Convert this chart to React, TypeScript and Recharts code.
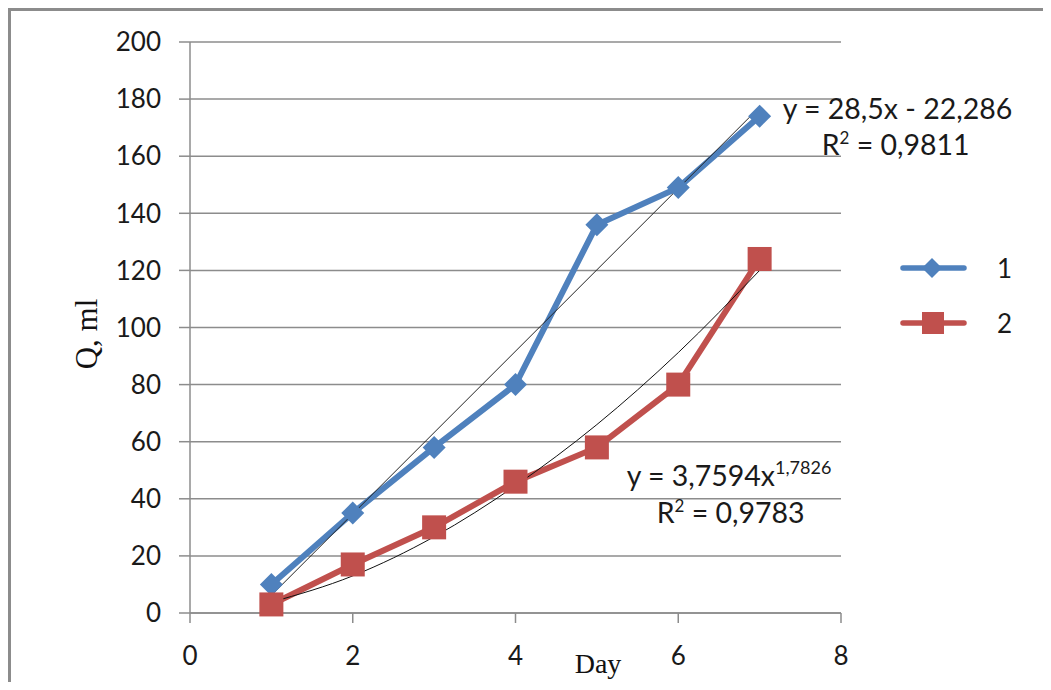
import { LineChart, Line, XAxis, YAxis, CartesianGrid, ReferenceDot } from "recharts";

// measured values (Q, ml per day)
const days = [1, 2, 3, 4, 5, 6, 7];
const series1 = [10, 35, 58, 80, 136, 149, 174];
const series2 = [3, 17, 30, 46, 58, 80, 124];

// trendlines
const linearDays = [1, 7];
const linearTrend = [6.2, 177.2];
const powerTrend = [3.8, 13.0, 26.7, 44.6, 66.0, 91.2, 120.0];

const xTicks = [0, 2, 4, 6, 8];
const yTicks = [0, 20, 40, 60, 80, 100, 120, 140, 160, 180, 200];

const BLUE = "#4F81BD";
const RED = "#C0504D";
const GRID = "#8c8c8c";
const FONT = "Lato, 'Open Sans', sans-serif";
const SERIF = "'Liberation Serif', 'DejaVu Serif', serif";

const s1 = days.map((x, i) => ({ x, y: series1[i] }));
const s2 = days.map((x, i) => ({ x, y: series2[i] }));
const lin = linearDays.map((x, i) => ({ x, y: linearTrend[i] }));
const pow = days.map((x, i) => ({ x, y: powerTrend[i] }));

const diamond = (cx: number, cy: number, r: number) =>
  `M${cx},${cy - r}L${cx + r},${cy}L${cx},${cy + r}L${cx - r},${cy}Z`;

const DiamondDot = (p: any) =>
  p.cx == null ? null : <path key={`d${p.index}`} d={diamond(p.cx, p.cy, 11.5)} fill={BLUE} stroke="none" />;

const SquareDot = (p: any) =>
  p.cx == null ? null : (
    <rect key={`s${p.index}`} x={p.cx - 12} y={p.cy - 12} width={24} height={24} fill={RED} />
  );

const tickStyle = { fontFamily: FONT, fontSize: 26, fill: "#1a1a1a" };

function LegendBox() {
  const row = (color: string, label: string, square: boolean) => (
    <div style={{ display: "flex", alignItems: "center", height: 55 }}>
      <svg width={67} height={26}>
        <line x1={3} y1={13} x2={64} y2={13} stroke={color} strokeWidth={5.5} strokeLinecap="round" />
        {square ? (
          <rect x={22} y={2} width={22} height={22} fill={color} />
        ) : (
          <path d={diamond(32, 13, 10)} fill={color} />
        )}
      </svg>
      <span style={{ marginLeft: 30, fontFamily: FONT, fontSize: 26, color: "#1a1a1a" }}>{label}</span>
    </div>
  );
  return (
    <div style={{ position: "absolute", left: 892, top: 232 }}>
      {row(BLUE, "1", false)}
      {row(RED, "2", true)}
    </div>
  );
}

export default function App() {
  return (
    <div style={{ position: "relative", width: 1035, height: 674, overflow: "hidden", background: "#fff" }}>
      <div
        style={{
          position: "absolute",
          left: 0,
          top: 0,
          width: 1200,
          height: 900,
          borderTop: `3px solid ${GRID}`,
          borderLeft: `3px solid ${GRID}`,
        }}
      />
      <LineChart
        width={1035}
        height={674}
        margin={{ top: 34, right: 202, bottom: 29, left: 102 }}
        style={{ position: "absolute", left: 0, top: 0 }}
      >
        <CartesianGrid vertical={false} stroke={GRID} strokeWidth={1.5} />
        <XAxis
          type="number"
          dataKey="x"
          domain={[0, 8]}
          ticks={xTicks}
          height={40}
          tickSize={10}
          tickMargin={24}
          tick={tickStyle}
          stroke={GRID}
          strokeWidth={1.5}
          allowDuplicatedCategory={false}
          label={{
            content: (props: any) => {
              const vb = props.viewBox;
              return (
                <text x={vb.x + 408} y={vb.y + 60} textAnchor="middle" fontFamily={SERIF} fontSize={28} fill="#111">
                  Day
                </text>
              );
            },
          }}
        />
        <YAxis
          type="number"
          domain={[0, 200]}
          ticks={yTicks}
          width={80}
          tickSize={11}
          tickMargin={18}
          tick={tickStyle}
          stroke={GRID}
          strokeWidth={1.5}
          label={{
            content: (props: any) => {
              const vb = props.viewBox;
              const x = vb.x - 24;
              const y = vb.y + 292;
              return (
                <text
                  x={x}
                  y={y}
                  transform={`rotate(-90 ${x} ${y})`}
                  textAnchor="middle"
                  dominantBaseline="central"
                  fontFamily={SERIF}
                  fontSize={31}
                  fill="#111"
                >
                  Q, ml
                </text>
              );
            },
          }}
        />
        <Line
          data={s1}
          dataKey="y"
          name="1"
          stroke={BLUE}
          strokeWidth={6}
          dot={DiamondDot}
          activeDot={false}
          isAnimationActive={false}
        />
        <Line
          data={s2}
          dataKey="y"
          name="2"
          stroke={RED}
          strokeWidth={6}
          dot={SquareDot}
          activeDot={false}
          isAnimationActive={false}
        />
        <Line
          data={lin}
          dataKey="y"
          stroke="#222"
          strokeWidth={1}
          dot={false}
          activeDot={false}
          legendType="none"
          isAnimationActive={false}
        />
        <Line
          data={pow}
          dataKey="y"
          type="monotone"
          stroke="#111"
          strokeWidth={1}
          dot={false}
          activeDot={false}
          legendType="none"
          isAnimationActive={false}
        />
        <ReferenceDot
          x={linearDays[1]}
          y={linearTrend[1]}
          r={0}
          stroke="none"
          label={{
            content: (props: any) => {
              const { x, y } = props.viewBox;
              return (
                <g fontFamily={FONT} fontSize={28.5} fill="#1a1a1a">
                  <text x={x + 23} y={y + 12}>y = 28,5x - 22,286</text>
                  <text x={x + 62} y={y + 48}>
                    R<tspan fontSize={17} dy={-11}>2</tspan>
                    <tspan dy={11}> = 0,9811</tspan>
                  </text>
                </g>
              );
            },
          }}
        />
        <ReferenceDot
          x={days[6]}
          y={powerTrend[6]}
          r={0}
          stroke="none"
          label={{
            content: (props: any) => {
              const { x, y } = props.viewBox;
              return (
                <g fontFamily={FONT} fontSize={28.5} fill="#1a1a1a">
                  <text x={x - 133} y={y + 216}>
                    y = 3,7594x<tspan fontSize={18} dy={-12}>1,7826</tspan>
                  </text>
                  <text x={x - 103} y={y + 253}>
                    R<tspan fontSize={17} dy={-11}>2</tspan>
                    <tspan dy={11}> = 0,9783</tspan>
                  </text>
                </g>
              );
            },
          }}
        />
      </LineChart>
      <LegendBox />
    </div>
  );
}
